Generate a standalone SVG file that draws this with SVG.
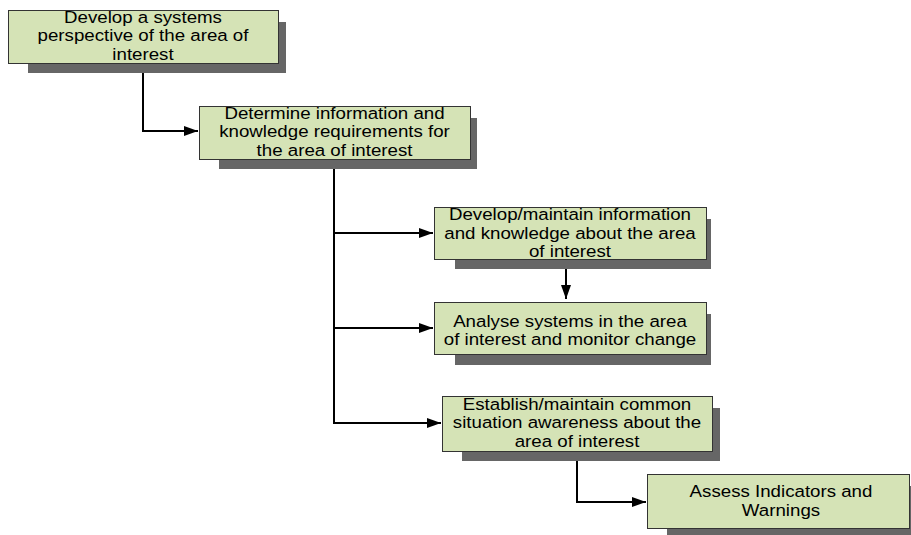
<svg xmlns="http://www.w3.org/2000/svg" width="911" height="535" viewBox="0 0 911 535">
  <defs>
    <marker id="arrow" viewBox="0 0 14 10" refX="14" refY="5" markerWidth="14" markerHeight="10" markerUnits="userSpaceOnUse" orient="auto">
      <path d="M0,0 L14,5 L0,10 z" fill="#000"/>
    </marker>
    <style>
      .shadow { fill: #666666; }
      .box { fill: #d5e3b6; stroke: #333333; stroke-width: 1; }
      .label { font-family: "Liberation Sans", Arial, sans-serif; font-size: 17px; fill: #000; text-anchor: middle; }
      .conn { fill: none; stroke: #000; stroke-width: 2; }
    </style>
  </defs>
  <rect width="911" height="535" fill="#ffffff"/>

  <!-- connectors -->
  <g id="connectors">
    <path class="conn" d="M143,63 V131 H198" marker-end="url(#arrow)"/>
    <path class="conn" d="M334,159 V423 H441" marker-end="url(#arrow)"/>
    <path class="conn" d="M334,233 H433" marker-end="url(#arrow)"/>
    <path class="conn" d="M334,328 H433" marker-end="url(#arrow)"/>
    <path class="conn" d="M566,259 V299" marker-end="url(#arrow)"/>
    <path class="conn" d="M577,451 V502 H646" marker-end="url(#arrow)"/>
  </g>

  <g id="node-systems-perspective">
    <rect class="shadow" x="28" y="22" width="258" height="51"/>
    <rect class="box" x="8.5" y="10.5" width="270" height="53"/>
    <text class="label" transform="translate(143,22.5) scale(1.1,1)">Develop a systems</text>
    <text class="label" transform="translate(143,41) scale(1.1,1)">perspective of the area of</text>
    <text class="label" transform="translate(143,59.5) scale(1.1,1)">interest</text>
  </g>

  <g id="node-requirements">
    <rect class="shadow" x="219" y="118" width="258" height="51"/>
    <rect class="box" x="199.5" y="106.5" width="271" height="53"/>
    <text class="label" transform="translate(334.5,118.5) scale(1.1,1)">Determine information and</text>
    <text class="label" transform="translate(334.5,137) scale(1.1,1)">knowledge requirements for</text>
    <text class="label" transform="translate(334.5,155.5) scale(1.1,1)">the area of interest</text>
  </g>

  <g id="node-develop-maintain">
    <rect class="shadow" x="455" y="219" width="256" height="50"/>
    <rect class="box" x="434.5" y="207.5" width="272" height="52"/>
    <text class="label" transform="translate(570,220) scale(1.1,1)">Develop/maintain information</text>
    <text class="label" transform="translate(570,238.5) scale(1.1,1)">and knowledge about the area</text>
    <text class="label" transform="translate(570,256.5) scale(1.1,1)">of interest</text>
  </g>

  <g id="node-analyse">
    <rect class="shadow" x="455" y="314" width="256" height="51"/>
    <rect class="box" x="434.5" y="302.5" width="272" height="52"/>
    <text class="label" transform="translate(570,326.5) scale(1.1,1)">Analyse systems in the area</text>
    <text class="label" transform="translate(570,345) scale(1.1,1)">of interest and monitor change</text>
  </g>

  <g id="node-situation-awareness">
    <rect class="shadow" x="462" y="408" width="258" height="53"/>
    <rect class="box" x="442.5" y="396.5" width="270" height="55"/>
    <text class="label" transform="translate(577,409.5) scale(1.1,1)">Establish/maintain common</text>
    <text class="label" transform="translate(577,428) scale(1.1,1)">situation awareness about the</text>
    <text class="label" transform="translate(577,446.5) scale(1.1,1)">area of interest</text>
  </g>

  <g id="node-indicators">
    <rect class="shadow" x="667" y="486" width="250" height="49"/>
    <rect class="box" x="647.5" y="474.5" width="262" height="54"/>
    <text class="label" transform="translate(781,496.5) scale(1.1,1)">Assess Indicators and</text>
    <text class="label" transform="translate(781,515.5) scale(1.1,1)">Warnings</text>
  </g>
</svg>
